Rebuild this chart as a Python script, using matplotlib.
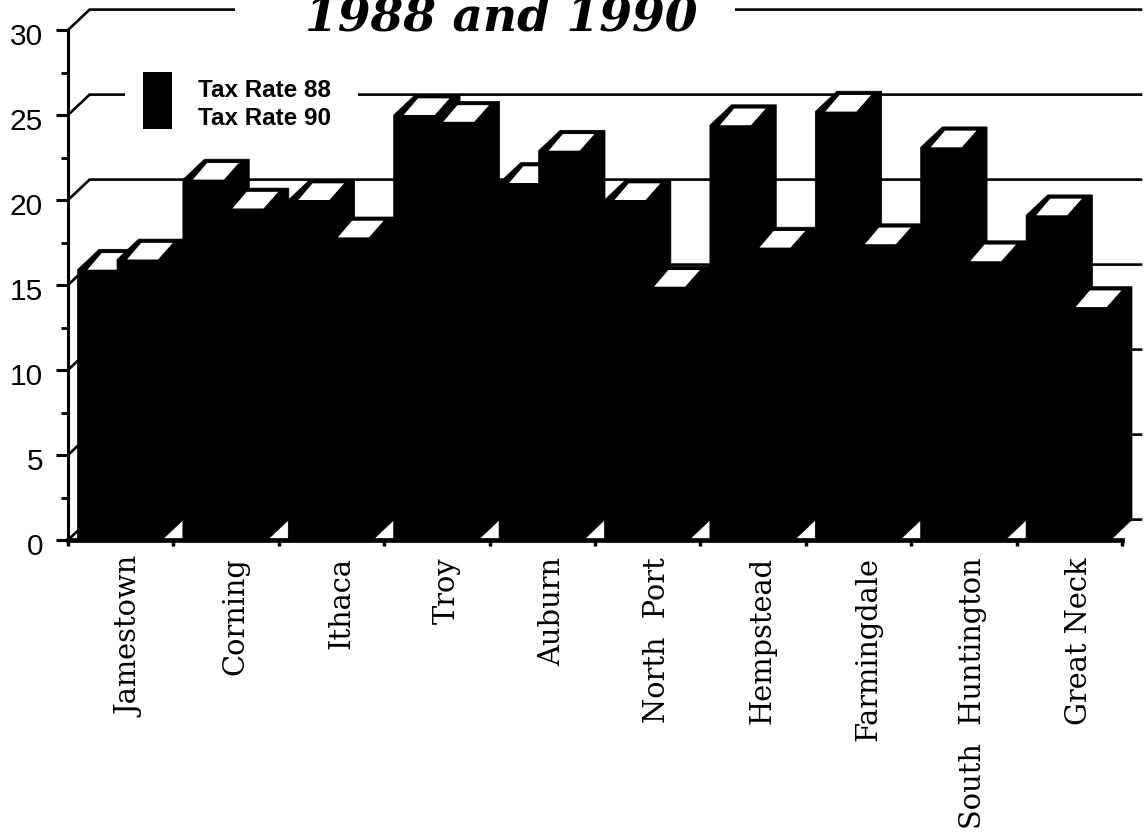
import matplotlib
matplotlib.use('Agg')
from matplotlib import pyplot as plt
from matplotlib.patches import Polygon, Rectangle
from matplotlib.transforms import ScaledTranslation

towns = ['Jamestown', 'Corning', 'Ithaca', 'Troy', 'Auburn', 'North  Port',
         'Hempstead', 'Farmingdale', 'South  Huntington', 'Great Neck']
rate_88 = [15.9, 21.2, 20.0, 25.0, 21.0, 20.0, 24.4, 25.2, 23.1, 19.1]
rate_90 = [16.5, 19.5, 17.8, 24.6, 22.9, 14.9, 17.2, 17.4, 16.4, 13.7]
grid_levels = [0, 5, 10, 15, 20, 25, 30]
y_ticks = [0, 5, 10, 15, 20, 25, 30]
y_minor = [2.5, 7.5, 12.5, 17.5, 22.5, 27.5]

# 3d look: how far the back wall sits from the front plane, in data units
DX = 0.205
DY = 1.2
BAR_W = 0.425
BAR_STEP = 0.375
FIRST = 0.09
LW = 1.9

fig = plt.figure(figsize=(11.45, 8.38), dpi=100)
ax = fig.add_axes([68 / 1145, (838 - 540) / 838, 1054 / 1145, 510 / 838])
ax.set_xlim(0, 10)
ax.set_ylim(0, 30)


def draw_bar(x0, h):
    # black silhouette: front, top and side, painted as one shape
    pts = [(x0, 0), (x0, h), (x0 + DX, h + DY), (x0 + BAR_W + DX, h + DY),
           (x0 + BAR_W + DX, DY), (x0 + BAR_W, 0)]
    ax.add_patch(Polygon(pts, closed=True, fc='black', ec='black', lw=0.5,
                         zorder=3, clip_on=False))
    # white face on the top of the bar
    top = [(x0 + 0.095, h), (x0 + 0.39, h), (x0 + 0.53, h + 0.98), (x0 + 0.23, h + 0.98)]
    ax.add_patch(Polygon(top, closed=True, fc='white', ec='none', zorder=3, clip_on=False))


# back wall lines
for lev in grid_levels:
    ax.plot([0, DX, 10.18], [lev, lev + DY, lev + DY], color='black', lw=LW,
            zorder=1, clip_on=False, solid_joinstyle='miter')

# breaks in the wall lines behind the title and the legend
ax.add_patch(Rectangle((1.58, 30.5), 4.75, 1.4, fc='white', ec='none', zorder=2, clip_on=False))
ax.add_patch(Rectangle((0.54, 25.6), 2.21, 1.2, fc='white', ec='none', zorder=2, clip_on=False))

for i in range(len(towns)):
    draw_bar(i + FIRST, rate_88[i])
    draw_bar(i + FIRST + BAR_STEP, rate_90[i])

# legend
ax.add_patch(Rectangle((0.71, 24.2), 0.275, 3.3, fc='black', ec='none', zorder=4, clip_on=False))
ax.text(1.23, 26.47, 'Tax Rate 88', family='Liberation Sans', fontsize=17.5, fontweight='bold',
        va='center', ha='left', zorder=4, clip_on=False, color='black')
ax.text(1.23, 24.77, 'Tax Rate 90', family='Liberation Sans', fontsize=17.5, fontweight='bold',
        va='center', ha='left', zorder=4, clip_on=False, color='black')

ax.text(4.11, 30, '1988 and 1990', family='DejaVu Serif', fontsize=33.9, fontweight='bold',
        fontstyle='italic', ha='center', va='baseline', zorder=4, clip_on=False)

# axes
for s in ['top', 'right']:
    ax.spines[s].set_visible(False)
ax.spines['left'].set_linewidth(2.2)
ax.spines['bottom'].set_linewidth(3.4)
ax.spines['left'].set_zorder(5)
ax.spines['bottom'].set_zorder(5)

ax.set_yticks(y_ticks)
ax.set_yticks(y_minor, minor=True)
ax.set_yticklabels([str(v) for v in y_ticks], family='Liberation Sans', fontsize=21.5)
ax.tick_params(axis='y', which='major', length=9, width=2.2, pad=9)
ax.tick_params(axis='y', which='minor', length=5, width=2.0)
# numbers sit a little under their tick marks
down = ScaledTranslation(0, -4 / 100, fig.dpi_scale_trans)
for lab in ax.get_yticklabels():
    lab.set_transform(lab.get_transform() + down)

ax.set_xticks(range(11))
ax.set_xticklabels([])
ax.tick_params(axis='x', which='major', length=4, width=2.5)

for i, name in enumerate(towns):
    ax.text(i + 0.665, -1.0, name, family='DejaVu Serif', fontsize=20.8, rotation=90,
            ha='right', va='baseline', rotation_mode='anchor', clip_on=False)

fig.savefig('out.png', dpi=100)
